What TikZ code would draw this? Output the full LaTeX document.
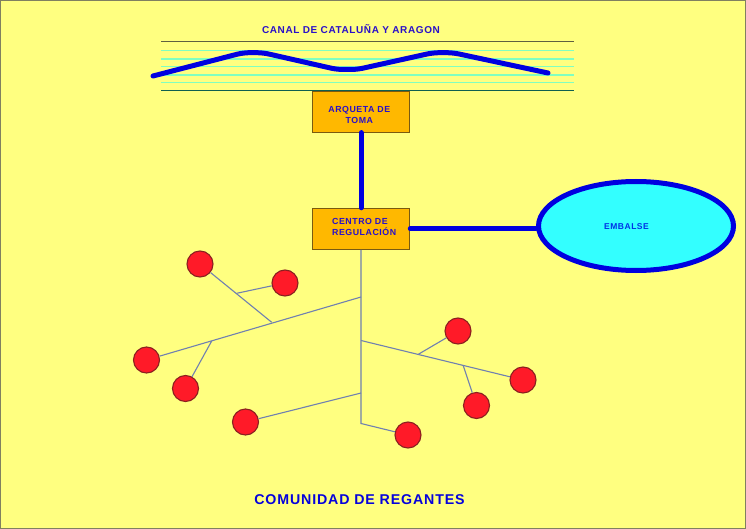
\documentclass[tikz,border=0pt]{standalone}
\usepackage{fontspec}
\setmainfont{Liberation Sans}
\newfontfamily\spaced[LetterSpace=6]{Liberation Sans}
\usetikzlibrary{shapes.geometric}
\definecolor{bgyellow}{HTML}{FFFF80}
\definecolor{frameedge}{HTML}{808060}
\definecolor{boxorange}{HTML}{FFB800}
\definecolor{boxedge}{HTML}{7A5A10}
\definecolor{thickblue}{HTML}{0000E0}
\definecolor{labelblue}{HTML}{2A10C8}
\definecolor{aqualine}{HTML}{80FFC0}
\definecolor{canaltop}{HTML}{606040}
\definecolor{canaldark}{HTML}{106050}
\definecolor{pipe}{HTML}{7080B0}
\definecolor{tapred}{HTML}{FF1A28}
\definecolor{tapedge}{HTML}{8A2020}
\definecolor{water}{HTML}{33FFFF}
\tikzset{
  x=1pt,y=-1pt,
  titlelabel/.style={font=\spaced\bfseries, text=labelblue, inner sep=0pt},
  boxnode/.style={draw=boxedge, line width=1pt, fill=boxorange, minimum width=97.5pt, minimum height=41pt, inner sep=0pt},
  boxlabel/.style={inner sep=0pt, font=\spaced\bfseries\fontsize{8.8}{11}\selectfont, text=labelblue},
  tap/.style={circle, draw=tapedge, line width=1.1pt, fill=tapred, minimum size=26pt, inner sep=0pt},
  thinline/.style={draw=pipe, line width=1.1pt},
  thickline/.style={draw=thickblue, line width=5pt, line cap=round, line join=round},
  lightline/.style={draw=aqualine, line width=1.4pt}
}
\begin{document}
\begin{tikzpicture}
\useasboundingbox (0,0) rectangle (746,529);
\fill[bgyellow] (0,0) rectangle (746,529);
\draw[frameedge, line width=1.6pt] (0.6,0.6) rectangle (745.4,528.4);

% canal
\foreach \yy in {50.5,59,66.5,75,82.5} \draw[lightline] (161,\yy) -- (574,\yy);
\draw[canaltop, line width=1pt] (161,41.5) -- (574,41.5);
\draw[canaldark, line width=1pt] (161,91) -- (574,91);
\draw[thickline, rounded corners=6pt] (153,76) -- (243,52.7) -- (263,52.7) -- (337,69.5) -- (357,69.5) -- (433,52.7) -- (453,52.7) -- (548,73);
\node[titlelabel, font=\spaced\bfseries\fontsize{10}{12}\selectfont] (canal) at (351,29.5) {CANAL DE CATALUÑA Y ARAGON};

% boxes and reservoir
\node[boxnode] (arqueta) at (361,111.6) {};
\node[boxlabel, align=center] (arquetatext) at (359.3,115.2) {ARQUETA DE\\TOMA};
\node[boxnode] (centro) at (361,228.8) {};
\node[boxlabel, align=left, anchor=west] (centrotext) at (332,226.5) {CENTRO DE\\REGULACIÓN};
\node[ellipse, draw=thickblue, line width=5pt, fill=water, minimum width=195pt, minimum height=89pt, inner sep=0pt] (embalse) at (636,226) {};
\node[inner sep=0pt, font=\spaced\bfseries\fontsize{8.5}{10}\selectfont, text=thickblue!80!cyan] (embalsetext) at (626.5,226.7) {EMBALSE};
\draw[thickline] (arqueta.south) -- (centro.north);
\draw[thickline] (centro.east) -- (centro.east -| embalse.west);

% network
\coordinate (t1) at (361,297);
\coordinate (t2) at (361,340.5);
\coordinate (t3) at (361,393);
\coordinate (t4) at (361,423.5);
\coordinate (j1) at (271.7,322.3);
\coordinate (j2) at (211.7,341);
\coordinate (j3) at (236.7,293.3);
\coordinate (j4) at (418.3,354.3);
\coordinate (j5) at (463.3,365.7);
\node[tap] (c1) at (200,264) {};
\node[tap] (c2) at (285,283) {};
\node[tap] (c3) at (146.5,360) {};
\node[tap] (c4) at (185.5,388.5) {};
\node[tap] (c5) at (245.5,422) {};
\node[tap] (c6) at (458,331) {};
\node[tap] (c7) at (523,380) {};
\node[tap] (c8) at (476.5,405.5) {};
\node[tap] (c9) at (408,435) {};
\draw[thinline] (centro.south) -- (t4) -- (c9);
\draw[thinline] (t1) -- (c3);
\draw[thinline] (j1) -- (c1);
\draw[thinline] (j3) -- (c2);
\draw[thinline] (j2) -- (c4);
\draw[thinline] (t3) -- (c5);
\draw[thinline] (t2) -- (c7);
\draw[thinline] (j4) -- (c6);
\draw[thinline] (j5) -- (c8);

\node[titlelabel, font=\spaced\bfseries\fontsize{14.2}{16}\selectfont, text=thickblue!85!labelblue] (comunidad) at (359.5,499.5) {COMUNIDAD DE REGANTES};
\end{tikzpicture}
\end{document}
